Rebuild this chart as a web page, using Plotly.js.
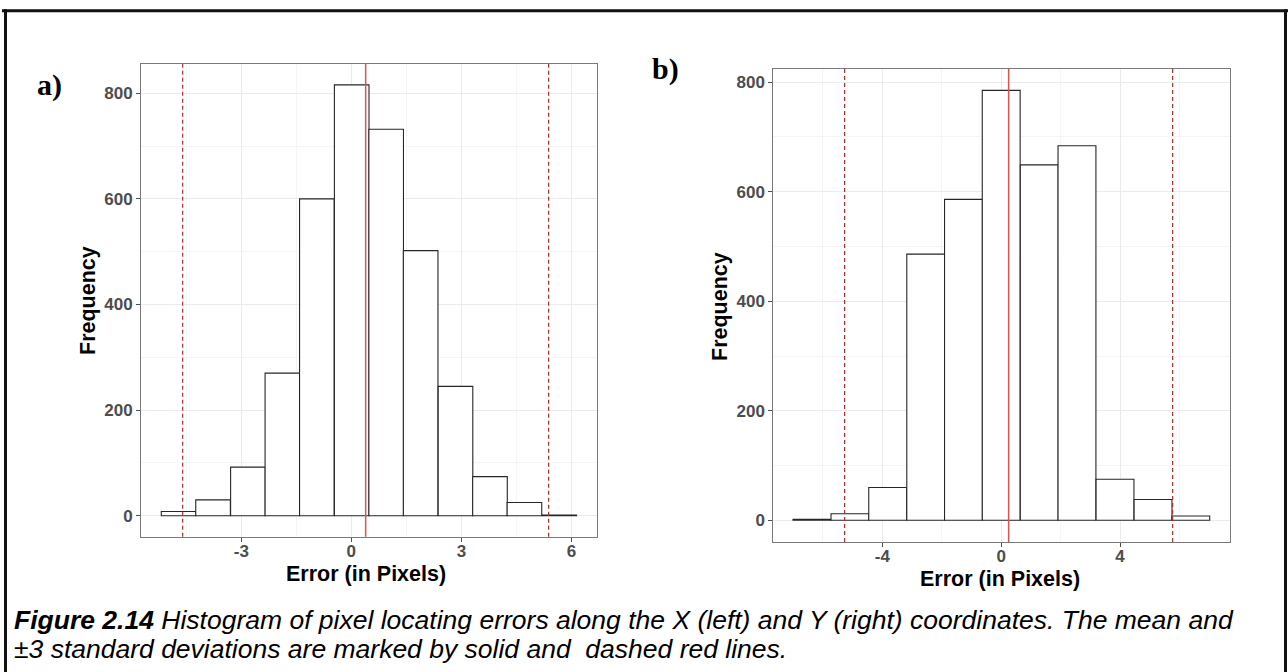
<!DOCTYPE html>
<html>
<head>
<meta charset="utf-8">
<script src="https://cdn.plot.ly/plotly-3.0.1.min.js"></script>
<style>
  html, body { margin: 0; padding: 0; background: #fff; }
  #chart { width: 1288px; height: 672px; }
</style>
</head>
<body>
<div id="chart"></div>
<script>
// Pixel locating errors: histogram counts per bin (X coordinate, panel a)
const binCentersX = [-4.71, -3.77, -2.82, -1.88, -0.94, 0.01, 0.95, 1.89, 2.84, 3.78, 4.72, 5.67];
const countsX = [8, 30, 92, 270, 600, 816, 732, 502, 245, 74, 25, 1];

// Histogram counts per bin (Y coordinate, panel b)
const binCentersY = [-6.37, -5.09, -3.82, -2.54, -1.27, 0.00, 1.28, 2.55, 3.83, 5.11, 6.38];
const countsY = [2, 12, 60, 486, 586, 785, 649, 684, 75, 38, 8];

// Mean and standard deviation of each error distribution
const meanX = 0.39, sdX = 1.663;
const meanY = 0.25, sdY = 1.84;

// Axis ticks
const xTicksA = [-3, 0, 3, 6];
const xTickTextA = ['-3', '0', '3', '6'];
const xMinorA = [-4.5, -1.5, 1.5, 4.5];
const xTicksB = [-4, 0, 4];
const xTickTextB = ['-4', '0', '4'];
const xMinorB = [-6, -2, 2, 6];
const yTicks = [0, 200, 400, 600, 800];
const yTickText = ['0', '200', '400', '600', '800'];
const yMinor = [100, 300, 500, 700];

const W = 1288, H = 672;
const px = v => v / W;          // horizontal pixel -> paper
const py = v => 1 - v / H;      // vertical pixel -> paper

function binWidth(centers) {
  return (centers[centers.length - 1] - centers[0]) / (centers.length - 1);
}

const barStyle = {
  color: '#ffffff',
  line: { color: '#262626', width: 1.1 }
};

const traces = [
  {
    type: 'bar', x: binCentersX, y: countsX,
    width: binCentersX.map(() => binWidth(binCentersX)),
    marker: barStyle, xaxis: 'x', yaxis: 'y', hoverinfo: 'x+y'
  },
  {
    type: 'bar', x: binCentersY, y: countsY,
    width: binCentersY.map(() => binWidth(binCentersY)),
    marker: barStyle, xaxis: 'x2', yaxis: 'y2', hoverinfo: 'x+y'
  }
];

const tickFont = { family: 'Liberation Sans, Arial, sans-serif', size: 17, color: '#4d4d4d', weight: 'bold' };

function xAxis(domain, range, tv, tt, minor, anchor) {
  return {
    domain, range, anchor,
    tickmode: 'array', tickvals: tv, ticktext: tt,
    ticks: 'outside', ticklen: 4, tickwidth: 1, tickcolor: '#4d4d4d',
    tickfont: tickFont, ticklabelstandoff: -5,
    showgrid: true, gridcolor: '#ebebeb', gridwidth: 1,
    minor: { tickvals: minor, showgrid: true, gridcolor: '#f5f5f5', gridwidth: 1, ticks: '' },
    zeroline: false,
    showline: true, mirror: true, linecolor: '#7a7a7a', linewidth: 1
  };
}

function yAxis(domain, range, anchor) {
  return {
    domain, range, anchor,
    tickmode: 'array', tickvals: yTicks, ticktext: yTickText,
    ticks: 'outside', ticklen: 4, tickwidth: 1, tickcolor: '#4d4d4d',
    tickfont: tickFont,
    showgrid: true, gridcolor: '#ebebeb', gridwidth: 1,
    minor: { tickvals: yMinor, showgrid: true, gridcolor: '#f5f5f5', gridwidth: 1, ticks: '' },
    zeroline: false,
    showline: true, mirror: true, linecolor: '#7a7a7a', linewidth: 1
  };
}

// Mean (solid) and mean ± 3 sd (dashed) reference lines
function refLines(mean, sd, xref, yref) {
  const solid = { type: 'line', xref, yref, x0: mean, x1: mean, y0: 0, y1: 1,
    line: { color: '#d9534f', width: 1.5 }, layer: 'above' };
  const dashed = [-3, 3].map(k => ({
    type: 'line', xref, yref, x0: mean + k * sd, x1: mean + k * sd, y0: 0, y1: 1,
    line: { color: '#a8302f', width: 1.2, dash: '4px,3px' }, layer: 'above'
  }));
  return [solid, ...dashed];
}

const frame = [
  { type: 'line', xref: 'paper', yref: 'paper', x0: px(2), x1: px(1288), y0: py(10.8), y1: py(10.8),
    line: { color: '#111', width: 3 } },
  { type: 'line', xref: 'paper', yref: 'paper', x0: px(5.5), x1: px(5.5), y0: py(9.3), y1: py(700),
    line: { color: '#111', width: 3 } },
  { type: 'line', xref: 'paper', yref: 'paper', x0: px(1285.5), x1: px(1285.5), y0: py(9.3), y1: py(700),
    line: { color: '#111', width: 3 } }
];

const titleFont = { family: 'Liberation Sans, Arial, sans-serif', size: 21.5, color: '#000', weight: 'bold' };
const panelFont = { family: 'Liberation Serif, Times New Roman, serif', size: 30, color: '#000', weight: 'bold' };
const capFont = { family: 'Liberation Sans, Arial, sans-serif', size: 26.5, color: '#000' };

const annotations = [
  { text: 'a)', xref: 'paper', yref: 'paper', x: px(49), y: py(85), showarrow: false,
    font: panelFont, xanchor: 'center', yanchor: 'middle' },
  { text: 'b)', xref: 'paper', yref: 'paper', x: px(666), y: py(69), showarrow: false,
    font: panelFont, xanchor: 'center', yanchor: 'middle' },
  { text: 'Frequency', xref: 'paper', yref: 'paper', x: px(88), y: py(301), textangle: -90, showarrow: false,
    font: titleFont, xanchor: 'center', yanchor: 'middle' },
  { text: 'Frequency', xref: 'paper', yref: 'paper', x: px(720), y: py(306), textangle: -90, showarrow: false,
    font: titleFont, xanchor: 'center', yanchor: 'middle' },
  { text: 'Error (in Pixels)', xref: 'paper', yref: 'paper', x: px(366), y: py(574), showarrow: false,
    font: titleFont, xanchor: 'center', yanchor: 'middle' },
  { text: 'Error (in Pixels)', xref: 'paper', yref: 'paper', x: px(1000), y: py(579), showarrow: false,
    font: titleFont, xanchor: 'center', yanchor: 'middle' },
  { text: '<b><i>Figure 2.14</i></b><i> Histogram of pixel locating errors along the X (left) and Y (right) coordinates. The mean and</i>',
    xref: 'paper', yref: 'paper', x: px(12), y: py(620), showarrow: false,
    font: capFont, xanchor: 'left', yanchor: 'middle', align: 'left' },
  { text: '<i>±3 standard deviations are marked by solid and  dashed red lines.</i>',
    xref: 'paper', yref: 'paper', x: px(12), y: py(649), showarrow: false,
    font: capFont, xanchor: 'left', yanchor: 'middle', align: 'left' }
];

const layout = {
  width: W, height: H,
  margin: { l: 0, r: 0, t: 0, b: 0 },
  paper_bgcolor: '#ffffff', plot_bgcolor: '#ffffff',
  showlegend: false,
  bargap: 0,
  xaxis: xAxis([px(141), px(596.7)], [-5.735, 6.69], xTicksA, xTickTextA, xMinorA, 'y'),
  yaxis: yAxis([py(536.7), py(64)], [-39.8, 855.5], 'x'),
  xaxis2: xAxis([px(773.3), px(1230)], [-7.67, 7.70], xTicksB, xTickTextB, xMinorB, 'y2'),
  yaxis2: yAxis([py(542), py(69)], [-39.6, 824], 'x2'),
  shapes: [
    ...refLines(meanX, sdX, 'x', 'y domain'),
    ...refLines(meanY, sdY, 'x2', 'y2 domain'),
    ...frame
  ],
  annotations
};

Plotly.newPlot('chart', traces, layout, { staticPlot: true, displayModeBar: false });
</script>
</body>
</html>
